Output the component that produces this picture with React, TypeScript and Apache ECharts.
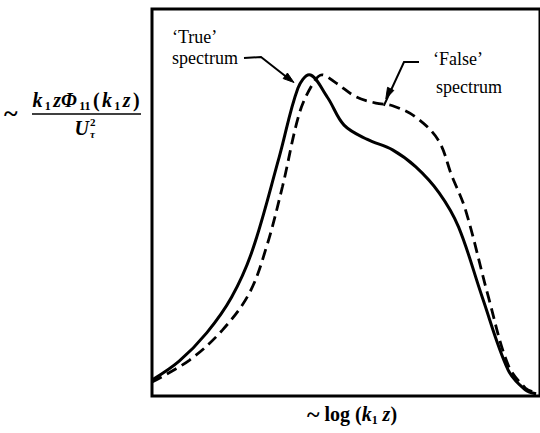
import React, { useEffect, useRef } from "react";
import * as echarts from "echarts";

// Normalised abscissa (log k1 z) and ordinate (premultiplied spectrum) samples
const trueX = [0, 7, 14.1, 20.5, 25.9, 32.8, 37.6, 40.5, 45.2, 49.5, 55.5, 62, 68, 74, 79, 85.1, 91.8, 96.2, 99];
const trueY = [4.1, 9.0, 16.3, 25.5, 37.7, 61.8, 79.5, 83.0, 77.2, 70.0, 66.3, 63.6, 59.2, 52.5, 43.7, 25.6, 6.7, 1.6, 0.6];

const falseX = [0, 9.7, 18.2, 25.1, 29.5, 33.6, 38.0, 41.5, 43.8, 47.4, 52.6, 57.7, 62, 67.9, 73.8, 77.2, 80.8, 86.7, 91.8, 96.2, 99];
const falseY = [3.6, 9.3, 17.1, 26.6, 38.5, 54.0, 73.1, 80.8, 83.0, 80.9, 77.3, 75.7, 75.0, 72.1, 66.1, 57.1, 48.1, 25.6, 8.0, 2.1, 0.8];

// Where the two annotation arrows touch the curves (data coordinates)
const trueArrowTip = [36.6, 81.0];
const falseArrowTip = [60.0, 75.0];

const serif = "'Liberation Serif', 'DejaVu Serif', serif";
const ink = "#000";

function pairs(xs: number[], ys: number[]) {
  return xs.map((x, i) => [x, ys[i]]);
}

function arrowHead(tip: number[], from: number[], len: number, half: number) {
  const dx = tip[0] - from[0];
  const dy = tip[1] - from[1];
  const d = Math.hypot(dx, dy) || 1;
  const ux = dx / d;
  const uy = dy / d;
  const bx = tip[0] - ux * len;
  const by = tip[1] - uy * len;
  return [
    [tip[0], tip[1]],
    [bx - uy * half, by + ux * half],
    [bx + uy * half, by - ux * half],
  ];
}

export default function App() {
  const ref = useRef<HTMLDivElement>(null);

  useEffect(() => {
    if (!ref.current) return;
    const chart = echarts.init(ref.current, null, { renderer: "svg" });

    chart.setOption({
      animation: false,
      backgroundColor: "#fff",
      grid: {
        left: 152,
        top: 9,
        width: 390,
        height: 387,
        show: true,
        borderColor: ink,
        borderWidth: 3,
        backgroundColor: "transparent",
      },
      xAxis: {
        type: "value",
        min: 0,
        max: 100,
        axisLine: { show: false },
        axisTick: { show: false },
        axisLabel: { show: false },
        splitLine: { show: false },
      },
      yAxis: {
        type: "value",
        min: 0,
        max: 100,
        axisLine: { show: false },
        axisTick: { show: false },
        axisLabel: { show: false },
        splitLine: { show: false },
      },
      series: [
        {
          name: "True",
          type: "line",
          data: pairs(trueX, trueY),
          smooth: 0.35,
          showSymbol: false,
          lineStyle: { color: ink, width: 3 },
        },
        {
          name: "False",
          type: "line",
          data: pairs(falseX, falseY),
          smooth: 0.35,
          showSymbol: false,
          lineStyle: { color: ink, width: 2.8, type: [11, 6] },
        },
      ],
    });

    const tTip = chart.convertToPixel({ gridIndex: 0 }, trueArrowTip) as number[];
    const fTip = chart.convertToPixel({ gridIndex: 0 }, falseArrowTip) as number[];

    const tBend = [261, 57];
    const fBend = [404, 62];

    const label = (text: string, x: number, y: number, extra: any = {}) => ({
      type: "text",
      x,
      y,
      style: {
        text,
        font: `18px ${serif}`,
        fill: ink,
        align: "left",
        verticalAlign: "middle",
        ...extra,
      },
    });

    const pad = [0, 1.2];
    const mathRich = {
      r: { fontFamily: serif, fontSize: 20, fontWeight: "bold", lineHeight: 24, padding: pad, fill: ink },
      i: { fontFamily: serif, fontSize: 20, fontWeight: "bold", fontStyle: "italic", lineHeight: 24, padding: pad, fill: ink },
      s: { fontFamily: serif, fontSize: 12, fontWeight: "bold", lineHeight: 12, verticalAlign: "bottom", padding: pad, fill: ink },
    };

    chart.setOption({
      graphic: [
        label("\u2018True\u2019", 172, 37),
        label("spectrum", 172, 58),
        label("\u2018False\u2019", 433, 59),
        label("spectrum", 436, 87),
        {
          type: "polyline",
          shape: { points: [[244, 58], tBend, [tTip[0] - 3, tTip[1] - 2]] },
          style: { stroke: ink, lineWidth: 2, fill: null },
        },
        {
          type: "polygon",
          shape: { points: arrowHead(tTip, tBend, 11, 3.5) },
          style: { fill: ink, stroke: ink, lineWidth: 1 },
        },
        {
          type: "polyline",
          shape: { points: [[419, 62], fBend, [fTip[0] - 1, fTip[1]]] },
          style: { stroke: ink, lineWidth: 2, fill: null },
        },
        {
          type: "polygon",
          shape: { points: arrowHead([fTip[0] + 1, fTip[1] - 7], fBend, 11, 3.5) },
          style: { fill: ink, stroke: ink, lineWidth: 1 },
        },
        // y-axis quantity
        label("~", 4, 113, { font: `bold 26px ${serif}` }),
        {
          type: "text",
          x: 86,
          y: 100,
          style: {
            text: "{i|k}{s|1}{i|z\u03A6}{s|11}{r|(}{i|k}{s|1}{i|z}{r|)}",
            rich: mathRich,
            align: "center",
            verticalAlign: "middle",
          },
        },
        {
          type: "line",
          shape: { x1: 32, y1: 114, x2: 141, y2: 114 },
          style: { stroke: ink, lineWidth: 1.5 },
        },
        {
          type: "text",
          x: 89,
          y: 128,
          style: {
            text: "U",
            font: `italic bold 20px ${serif}`,
            fill: ink,
            align: "right",
            verticalAlign: "middle",
          },
        },
        {
          type: "text",
          x: 90,
          y: 122,
          style: { text: "2", font: `bold 11px ${serif}`, fill: ink, align: "left", verticalAlign: "middle" },
        },
        {
          type: "text",
          x: 90,
          y: 134,
          style: { text: "\u03C4", font: `italic bold 11px ${serif}`, fill: ink, align: "left", verticalAlign: "middle" },
        },
        // x-axis quantity
        {
          type: "text",
          x: 352,
          y: 414,
          style: {
            text: "{t|~}{r| log (}{i|k}{s|1}{i| z}{r|)}",
            rich: {
              t: { fontFamily: serif, fontSize: 24, fontWeight: "bold", lineHeight: 24, fill: ink },
              r: { fontFamily: serif, fontSize: 20, fontWeight: "bold", lineHeight: 24, fill: ink },
              i: { fontFamily: serif, fontSize: 20, fontWeight: "bold", fontStyle: "italic", lineHeight: 24, fill: ink },
              s: { fontFamily: serif, fontSize: 12, fontWeight: "bold", lineHeight: 12, verticalAlign: "bottom", fill: ink },
            },
            align: "center",
            verticalAlign: "middle",
          },
        },
      ],
    });

    return () => chart.dispose();
  }, []);

  return (
    <div
      ref={ref}
      style={{ position: "fixed", left: 0, top: 0, width: 540, height: 433, background: "#fff" }}
    />
  );
}
